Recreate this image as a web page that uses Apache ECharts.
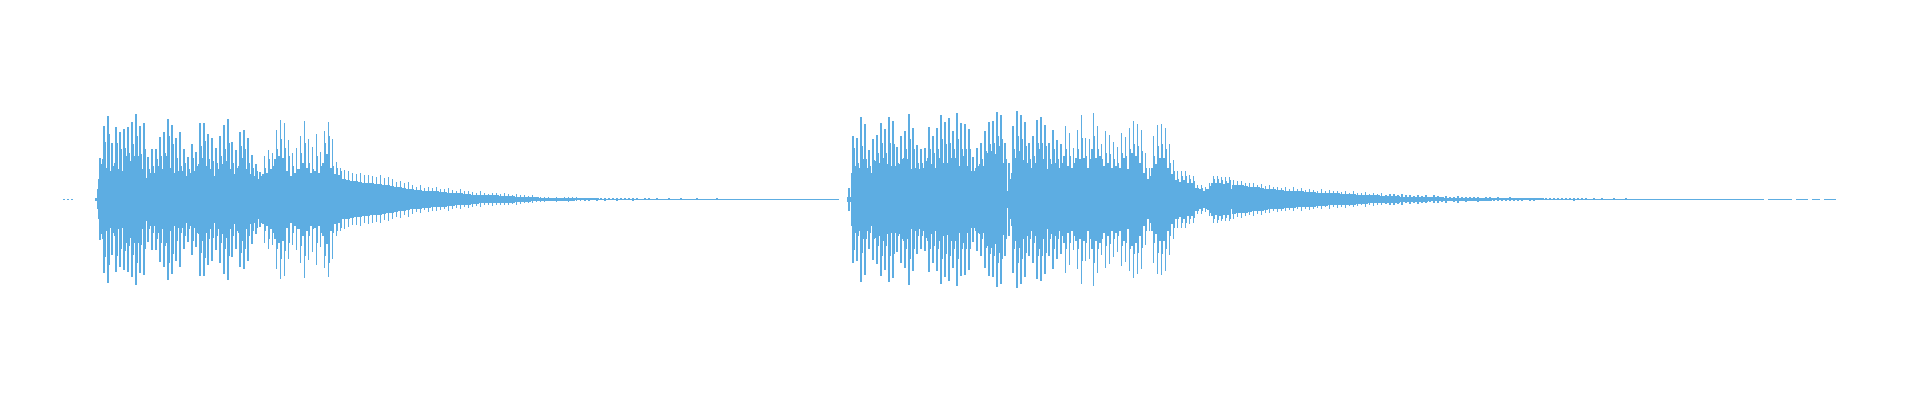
<!DOCTYPE html>
<html>
<head>
<meta charset="utf-8">
<style>html,body{margin:0;padding:0;background:#fff}#c{width:1920px;height:400px}</style>
<script src="https://cdn.jsdelivr.net/npm/echarts@6/dist/echarts.min.js"></script>
</head>
<body>
<div id="c"></div>
<script>
// amplitude of the waveform per slot (symmetric round zero)
const leadPeak = [1.5,1.5,1.5,0,0,0,0,0,4];
const leadMid  = [0,0,0,0,0,0,0,0,30];
const leadLeft = [0,0,0,0,0,0,0,0,0];
const leadCore = [0,0,0,0,0,0,0,0,0];

const peakA = [123,220,250,168,218,203,211,218,232,256,220,228,128,151,151,188,203,241,223,185,202,150,128,166,143,230,230,196,185,153,190,223,241,173,148,202,208,185,133,105,83,131,148,138,208,238,229,178,138,153,190,235,181,158,196,143,206,232,180,111,95];
const midA  = [105,173,196,100,170,150,155,140,166,190,136,150,90,100,120,130,140,190,165,125,100,110,90,125,100,160,175,120,115,110,130,150,170,110,95,160,150,110,95,85,70,95,120,100,150,180,155,130,100,90,140,170,110,90,130,100,170,190,100,95,85];
const leftA = [60,120,95,85,110,90,85,130,115,130,130,80,65,80,80,100,90,130,95,80,85,85,70,80,85,105,125,100,90,70,90,105,115,90,75,100,125,90,75,70,60,75,80,90,120,130,125,85,70,80,90,110,95,80,85,80,110,135,95,75,72];
const coreA = [58,66,60,56,58,76,74,92,100,118,100,90,56,58,60,78,88,96,90,70,66,68,64,64,64,80,86,80,72,52,64,72,82,72,60,68,76,70,62,58,56,62,64,54,64,76,72,64,54,56,58,64,64,58,54,56,72,82,78,70,70];

const peakTail1 = [
 88,84,78,76,80,72,74,70,68,72,
 63,66,60,53,56,48,52,44,38,42,
 33,38,34,36,32,30,34,28,26,30,
 24,26,22,20,24,18,16,20,18,16,
 18,16,14,16,14,12,10,12,8,7,
 8,6,5,7,5,6,7,6,6,5,
 4,5,3,4,3,4,3,3,4,3,
 3,3,4,3,2,3,3,2,3,2,
 2,3,2,2,3,2,2,2,3,2,
 2,2,2,3,2,2,2,2,2,2,
 2,2,2,2,2,2,2,2,2,2,
 2,2,2,2,2,2,2,2,2,1.5,
 1.5,1.5,1.5,1.5];
const coreTail1 = [
 60,58,56,54,52,50,50,48,46,46,
 44,42,40,38,36,34,32,30,28,28,
 26,26,24,24,22,22,20,20,18,18,
 16,16,14,14,12,12,12,12,12,10,
 10,10,10,8,8,8,7,6,6,5,
 5,4,4,4,4,4,4,4,3,3,
 3,3,3,3,2,2,2,2,2,2,
 2,2,2,2,2,2,2,2,2,2,
 2,2,2,2,2,2,2,2,2,2,
 2,2,2,2,2,2,2,2,2,2,
 2,2,2,2,2,2,2,2,2,2,
 2,2,2,2,1.5,1.5,1.5,1.5,1.5,1.5,
 1.5,1.5,1.5,1.5];

const peakGap = [0,0,34];
const coreGap = [0,0,8];

const peakB = [190,184,247,226,148,181,193,230,211,247,236,158,191,205,256,215,163,150,155,218,190,215,254,232,244,206,259,230,227,211,128,155,170,205,231,234,262,253,170,110,221,265,253,232,170,191,238,246,223,170,208,178,165,220,198,153,208,253,185,180,259,220,166,205,193,173,158,200,188,215,235,225,208,138,95,191,223,226,215,166,118,85,85,85,73,70,43,43,38,50,70,70,66,66,66];
const midB  = [153,110,160,120,100,118,140,170,140,170,165,110,120,150,180,150,110,110,115,150,140,150,180,165,170,150,180,150,150,150,85,100,120,145,165,170,190,180,120,60,150,190,180,160,120,130,170,170,160,120,150,120,110,150,130,110,150,185,130,120,190,150,120,140,135,120,110,140,130,150,165,160,145,95,70,130,160,165,150,110,85,60,70,70,60,55,35,35,30,40,60,62,58,56,58];
const leftB = [80,100,95,120,95,80,115,110,125,105,100,100,105,125,120,90,95,90,95,125,105,95,125,110,105,125,125,100,130,100,85,95,105,100,140,145,135,160,95,25,80,125,145,110,110,95,110,150,120,90,105,110,95,130,100,95,125,120,125,95,150,100,130,100,110,95,100,95,125,90,140,130,110,80,60,95,105,125,125,95,75,58,52,58,50,50,35,30,25,32,50,48,50,46,48];
const coreB = [38,52,66,72,62,58,78,82,88,78,72,72,88,98,98,82,68,78,88,98,82,78,92,98,108,108,102,92,72,68,68,78,72,88,102,108,135,155,108,22,68,98,135,118,88,68,72,88,78,68,62,82,72,72,68,78,82,92,78,68,30,125,102,68,62,58,68,62,58,72,82,90,92,68,50,68,92,92,82,62,46,40,35,32,28,24,16,14,14,22,28,30,30,28,30];

const peakTail2 = [
 58,54,56,50,48,50,44,46,40,42,
 36,38,34,36,32,36,30,34,28,32,
 28,26,30,24,28,24,26,22,26,20,
 24,20,18,22,16,20,16,18,14,16,
 16,14,16,12,14,10,14,10,12,8,
 12,10,8,10,6,8,10,6,8,6,
 6,8,5,6,6,5,6,4,5,6,
 4,5,4,3,4,4,3,3,3,3,
 3,3,3,3,3,4,3,3,3,2,
 3,2,3,2,2,3,2,2,3,2,
 2,2,2,2,2,2,2,2,2,2,
 2,2,1.5,1.5,1.5,1.5,1.5,1.5,1.5,1.5,
 1.5,1.5,1.5,1.5,1.5,1.5,1.5,1.5,1.5,1.5,
 1.5,1.5,1.5,0,1.5,1.5,1.5,1.5,1.5,1.5,
 0,1.5,1.5,1.5,0,1.5,1.5,0,1.5,1.5,
 1.5];
const coreTail2 = [
 44,42,42,40,38,36,36,34,32,30,
 30,28,28,26,26,26,24,24,22,22,
 22,20,20,20,18,18,18,16,16,16,
 16,14,14,14,12,12,12,10,10,10,
 10,10,8,8,8,8,8,7,7,6,
 6,6,6,5,5,5,5,4,4,4,
 4,4,4,4,4,3,3,3,3,3,
 3,3,3,3,3,3,3,3,2,2,
 2,2,2,2,2,2,2,2,2,2,
 2,2,2,2,2,2,2,2,2,2,
 2,2,2,2,2,2,2,2,2,2,
 2,2,1.5,1.5,1.5,1.5,1.5,1.5,1.5,1.5,
 1.5,1.5,1.5,1.5,1.5,1.5,1.5,1.5,1.5,1.5,
 1.5,1.5,1.5,0,1.5,1.5,1.5,1.5,1.5,1.5,
 0,1.5,1.5,1.5,0,1.5,1.5,0,1.5,1.5,
 1.5];

const waveColor = '#5dade2';
const zeros = n => new Array(n).fill(0);
const peak = [].concat(leadPeak, peakA, peakTail1, peakGap, peakB, peakTail2);
const mid  = [].concat(leadMid, midA, zeros(peakTail1.length), zeros(peakGap.length), midB, zeros(peakTail2.length));
const left = [].concat(leadLeft, leftA, zeros(peakTail1.length), zeros(peakGap.length), leftB, zeros(peakTail2.length));
const core = [].concat(leadCore, coreA, coreTail1, coreGap, coreB, coreTail2);

const slotPx = 4.005;
function layer(values, fromSlot, toSlot) {
  return {
    type: 'custom',
    silent: true,
    clip: false,
    data: values.map((v, i) => [i, v]),
    encode: { x: 0, y: 1 },
    renderItem: function (params, api) {
      const i = api.value(0), v = api.value(1);
      if (!v) return null;
      const a = api.coord([i + fromSlot, v]);
      const b = api.coord([i + toSlot, -v]);
      const x0 = Math.round(a[0]), x1 = Math.max(Math.round(b[0]), x0 + 1);
      let y0 = Math.round(a[1]), y1 = Math.round(b[1]);
      if (y1 <= y0) y1 = y0 + 1;
      return { type: 'rect', shape: { x: x0, y: y0, width: x1 - x0, height: y1 - y0 }, style: { fill: waveColor } };
    }
  };
}

const chart = echarts.init(document.getElementById('c'), null, { renderer: 'canvas' });
chart.setOption({
  animation: false,
  grid: { left: 63.25, top: 99.3, width: slotPx * peak.length, height: 200 },
  xAxis: { type: 'value', min: 0, max: peak.length, show: false },
  yAxis: { type: 'value', min: -300, max: 300, show: false },
  series: [
    layer(core, -0.3, 0.7),
    layer(left, -0.33, 0),
    layer(mid, 0.33, 0.66),
    layer(peak, 0, 0.4)
  ]
});
</script>
</body>
</html>
